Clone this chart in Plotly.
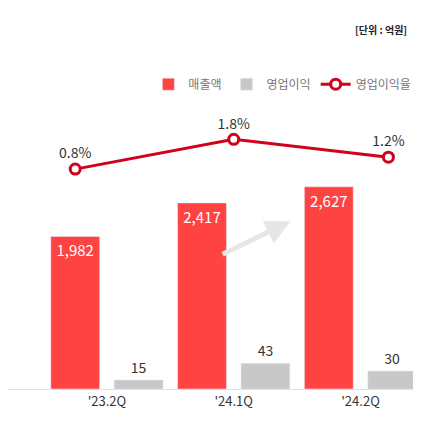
import plotly.graph_objects as go

categories = ["'23.2Q", "'24.1Q", "'24.2Q"]
revenue = [1982, 2417, 2627]
op_profit = [15, 43, 30]
op_margin = [0.8, 1.8, 1.2]
margin_x = [-0.25, 1.0, 2.22]

xs = list(range(len(categories)))
fig = go.Figure()
fig.add_trace(go.Bar(x=[x - 0.25 for x in xs], y=revenue, width=0.385, name="매출액",
                     marker_color="#FF4343", text=[f"{v:,}" for v in revenue],
                     textposition="inside", insidetextanchor="end",
                     textfont=dict(color="white", size=15, family="Noto Sans CJK KR"),
                     yaxis="y"))
fig.add_trace(go.Bar(x=[x + 0.25 for x in xs], y=op_profit, width=0.385, name="영업이익",
                     marker_color="#C8C8C8", text=[str(v) for v in op_profit],
                     textposition="outside", cliponaxis=False,
                     textfont=dict(color="#333", size=14, family="Noto Sans CJK KR"),
                     yaxis="y2"))
fig.add_trace(go.Scatter(x=margin_x, y=op_margin, name="영업이익율", mode="lines+markers+text",
                         line=dict(color="#D0021B", width=3),
                         marker=dict(size=10, color="white", line=dict(color="#D0021B", width=3)),
                         text=[f"{v}%" for v in op_margin], textposition="top center",
                         textfont=dict(color="#333", size=14, family="Noto Sans CJK KR"),
                         yaxis="y3", cliponaxis=False))
fig.add_annotation(x=1.45, y=2180, ax=0.9, ay=1740, xref="x", yref="y", axref="x", ayref="y",
                   showarrow=True, arrowhead=2, arrowsize=1, arrowwidth=5, arrowcolor="#E6E6E6", text="")
fig.add_annotation(x=1, y=1, xref="paper", yref="paper", yshift=-12, xshift=-20, showarrow=False,
                   text="<b>[단위 : 억원]</b>", xanchor="right", yanchor="top",
                   font=dict(size=10, color="#222", family="Noto Sans CJK KR"))
fig.update_layout(
    width=421, height=421, margin=dict(l=0, r=0, t=0, b=40),
    plot_bgcolor="white", paper_bgcolor="white", barmode="overlay",
    font=dict(family="Noto Sans CJK KR"),
    xaxis=dict(range=[-0.78, 2.54], tickvals=xs, ticktext=categories, showgrid=False,
               zeroline=False, showline=True, linecolor="#E0E0E0",
               tickfont=dict(size=13, color="#333"), automargin=False),
    yaxis=dict(range=[0, 4950], visible=False),
    yaxis2=dict(range=[0, 635], overlaying="y", visible=False),
    yaxis3=dict(range=[-6.57, 6.2], overlaying="y", visible=False),
    legend=dict(orientation="h", x=0.97, xanchor="right", y=0.8, yanchor="middle",
                font=dict(size=12, color="#777"), traceorder="normal"),
)
fig.write_html("out.html")
